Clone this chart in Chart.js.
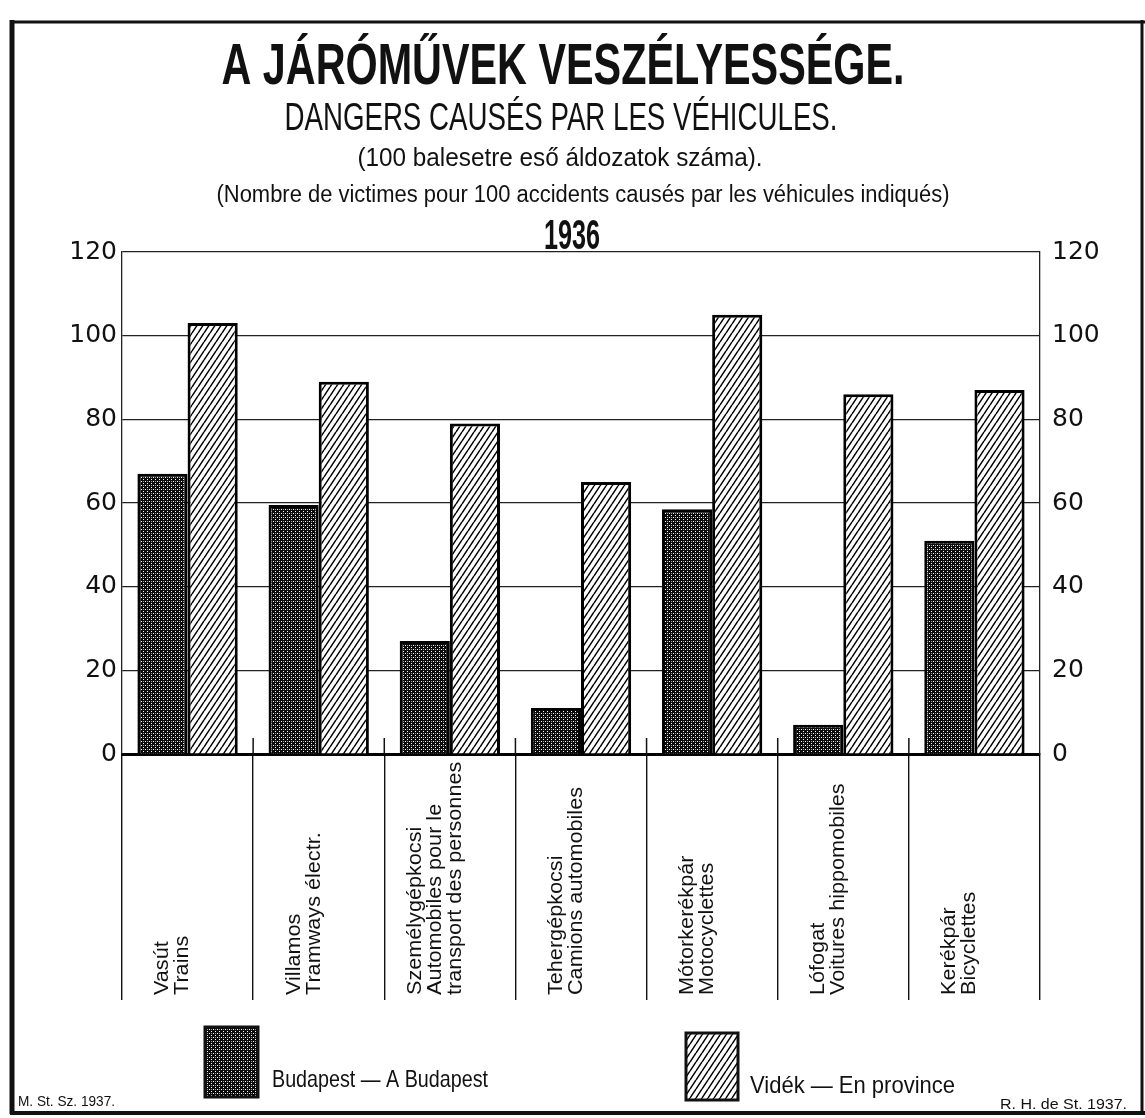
<!DOCTYPE html>
<html lang="hu">
<head>
<meta charset="UTF-8">
<title>A járművek veszélyessége 1936</title>
<script src="https://cdn.jsdelivr.net/npm/chart.js"></script>
<style>
  html, body { margin: 0; padding: 0; background: #fff; }
</style>
</head>
<body>
<canvas id="chart" width="1145" height="1118"></canvas>
<script>
// kategóriák: magyar / francia megnevezés, soronként
const categories = [
  ['Vasút', 'Trains'],
  ['Villamos', 'Tramways électr.'],
  ['Személygépkocsi', 'Automobiles pour le', 'transport des personnes'],
  ['Tehergépkocsi', 'Camions automobiles'],
  ['Mótorkerékpár', 'Motocyclettes'],
  ['Lófogat', 'Voitures hippomobiles'],
  ['Kerékpár', 'Bicyclettes']
];
// 100 balesetre eső áldozatok száma
const budapest = [67, 59.5, 27, 11, 58.5, 7, 51];
const videk = [103, 89, 79, 65, 105, 86, 87];
const seriesNames = ['Budapest — A Budapest', 'Vidék — En province'];
const yMax = 120;
const yStep = 20;

const headLines = [
  'A JÁRÓMŰVEK VESZÉLYESSÉGE.',
  'DANGERS CAUSÉS PAR LES VÉHICULES.',
  '(100 balesetre eső áldozatok száma).',
  '(Nombre de victimes pour 100 accidents causés par les véhicules indiqués)',
  '1936'
];
const footLeft = 'M. St. Sz. 1937.';
const footRight = 'R. H. de St. 1937.';

const INK = '#111';

// sötét, keresztsraffozott minta
function crossPattern() {
  const c = document.createElement('canvas');
  c.width = 4; c.height = 4;
  const g = c.getContext('2d');
  g.fillStyle = '#0c0c0c';
  g.fillRect(0, 0, 4, 4);
  g.fillStyle = '#ffffff';
  g.fillRect(1, 1, 1, 1);
  g.fillRect(3, 3, 1, 1);
  g.fillStyle = '#9a9a9a';
  g.fillRect(3, 1, 1, 1);
  return g.createPattern(c, 'repeat');
}

// ferde vonalas minta
function hatchPattern() {
  const w = 6, h = 9;
  const c = document.createElement('canvas');
  c.width = w; c.height = h;
  const g = c.getContext('2d');
  g.fillStyle = '#fff';
  g.fillRect(0, 0, w, h);
  g.strokeStyle = '#000';
  g.lineWidth = 1.5;
  g.beginPath();
  for (const x0 of [-w, 0, w]) {
    g.moveTo(x0, h);
    g.lineTo(x0 + w, 0);
  }
  g.stroke();
  return g.createPattern(c, 'repeat');
}

// szöveg vízszintesen a kívánt szélességre nyomva (keskeny betű hatás)
function fitText(ctx, text, x, y, font, width, align) {
  ctx.save();
  ctx.font = font;
  const w = ctx.measureText(text).width;
  ctx.translate(x, y);
  ctx.scale(width / w, 1);
  ctx.textAlign = align || 'center';
  ctx.textBaseline = 'alphabetic';
  ctx.fillStyle = INK;
  ctx.fillText(text, 0, 0);
  ctx.restore();
}

const decorPlugin = {
  id: 'decor',
  beforeDraw(chart) {
    const ctx = chart.ctx;
    ctx.save();
    ctx.fillStyle = '#fff';
    ctx.fillRect(0, 0, chart.width, chart.height);
    // keret
    ctx.strokeStyle = INK;
    ctx.lineWidth = 5;
    ctx.beginPath(); ctx.moveTo(12, 20); ctx.lineTo(12, 1114); ctx.stroke();
    ctx.lineWidth = 3;
    ctx.beginPath(); ctx.moveTo(10, 22); ctx.lineTo(1145, 22); ctx.stroke();
    ctx.lineWidth = 4;
    ctx.beginPath(); ctx.moveTo(10, 1113); ctx.lineTo(1145, 1113); ctx.stroke();
    ctx.lineWidth = 3;
    ctx.beginPath(); ctx.moveTo(1142, 20); ctx.lineTo(1142, 1114); ctx.stroke();
    ctx.restore();
  },
  afterDatasetsDraw(chart) {
    // rövid osztóvonalak az alapvonal fölött
    const ctx = chart.ctx;
    const xs = chart.scales.x;
    const half = (xs.getPixelForValue(1) - xs.getPixelForValue(0)) / 2;
    const bottom = chart.chartArea.bottom;
    ctx.save();
    ctx.strokeStyle = INK;
    ctx.lineWidth = 1.5;
    for (let i = 1; i < categories.length; i++) {
      const x = xs.getPixelForValue(i) - half;
      ctx.beginPath();
      ctx.moveTo(x, bottom - 16);
      ctx.lineTo(x, bottom);
      ctx.stroke();
    }
    ctx.restore();
  },
  afterDraw(chart) {
    const ctx = chart.ctx;
    // fejléc
    fitText(ctx, headLines[0], 563, 84, 'bold 57px "Liberation Sans"', 683);
    fitText(ctx, headLines[1], 561, 130, '38px "Liberation Sans"', 553);
    fitText(ctx, headLines[2], 560, 166, '26px "Liberation Sans"', 405);
    fitText(ctx, headLines[3], 583, 202, '23px "Liberation Sans"', 733);
    fitText(ctx, headLines[4], 572, 249, 'bold 42px "Liberation Sans"', 56);

    // kategória feliratok, függőlegesen
    const xs = chart.scales.x;
    ctx.save();
    ctx.fillStyle = INK;
    ctx.font = '21px "Liberation Sans"';
    ctx.textAlign = 'left';
    ctx.textBaseline = 'middle';
    categories.forEach((lines, i) => {
      const cx = xs.getPixelForValue(i) - 15;
      lines.forEach((line, j) => {
        const x = cx - (lines.length - 1) * 10 + j * 20;
        ctx.save();
        ctx.translate(x, 995);
        ctx.rotate(-Math.PI / 2);
        ctx.scale(1.03, 1);
        ctx.fillText(line, 0, 0);
        ctx.restore();
      });
    });
    ctx.restore();

    // jelmagyarázat
    const ds = chart.data.datasets;
    const boxes = [[205, 1027, 53, 70, 272, 1087, 216], [686, 1033, 52, 67, 750, 1093, 205]];
    boxes.forEach((b, i) => {
      ctx.save();
      ctx.fillStyle = ds[i].backgroundColor;
      ctx.fillRect(b[0], b[1], b[2], b[3]);
      ctx.strokeStyle = INK;
      ctx.lineWidth = 3;
      ctx.strokeRect(b[0], b[1], b[2], b[3]);
      ctx.restore();
      fitText(ctx, seriesNames[i], b[4], b[5], '24px "Liberation Sans"', b[6], 'left');
    });
    fitText(ctx, footLeft, 18, 1106, '15px "Liberation Sans"', 97, 'left');
    fitText(ctx, footRight, 1127, 1109, '15px "Liberation Sans"', 127, 'right');
  }
};

const tickFont = { family: '"DejaVu Sans"', size: 25 };

new Chart(document.getElementById('chart'), {
  type: 'bar',
  data: {
    labels: categories,
    datasets: [
      { label: seriesNames[0], data: budapest, backgroundColor: crossPattern(), borderColor: '#000', borderWidth: 3 },
      { label: seriesNames[1], data: videk, backgroundColor: hatchPattern(), borderColor: '#000', borderWidth: 3 }
    ]
  },
  options: {
    responsive: false,
    animation: false,
    events: [],
    layout: { padding: { left: 14, right: 5, top: 252, bottom: 118 } },
    datasets: { bar: { categoryPercentage: 0.765, barPercentage: 1.0 } },
    plugins: { legend: { display: false }, tooltip: { enabled: false } },
    scales: {
      x: {
        z: 1,
        offset: true,
        ticks: { display: false },
        grid: { offset: true, drawOnChartArea: false, drawTicks: true, tickLength: 246, color: INK, lineWidth: 1.4 },
        border: { display: true, color: '#000', width: 3 },
        afterFit: s => { s.height = 246; }
      },
      y: {
        position: 'left',
        min: 0, max: yMax,
        ticks: { stepSize: yStep, padding: 5, color: INK, font: tickFont },
        grid: { color: '#222', lineWidth: 1.2, drawTicks: false },
        border: { color: '#222', width: 1.3 },
        afterFit: s => { s.width = 108; }
      },
      y2: {
        position: 'right',
        min: 0, max: yMax,
        ticks: { stepSize: yStep, padding: 12, color: INK, font: tickFont },
        grid: { drawOnChartArea: false, drawTicks: false },
        border: { color: '#222', width: 1.3 },
        afterFit: s => { s.width = 100; }
      }
    }
  },
  plugins: [decorPlugin]
});
</script>
</body>
</html>
